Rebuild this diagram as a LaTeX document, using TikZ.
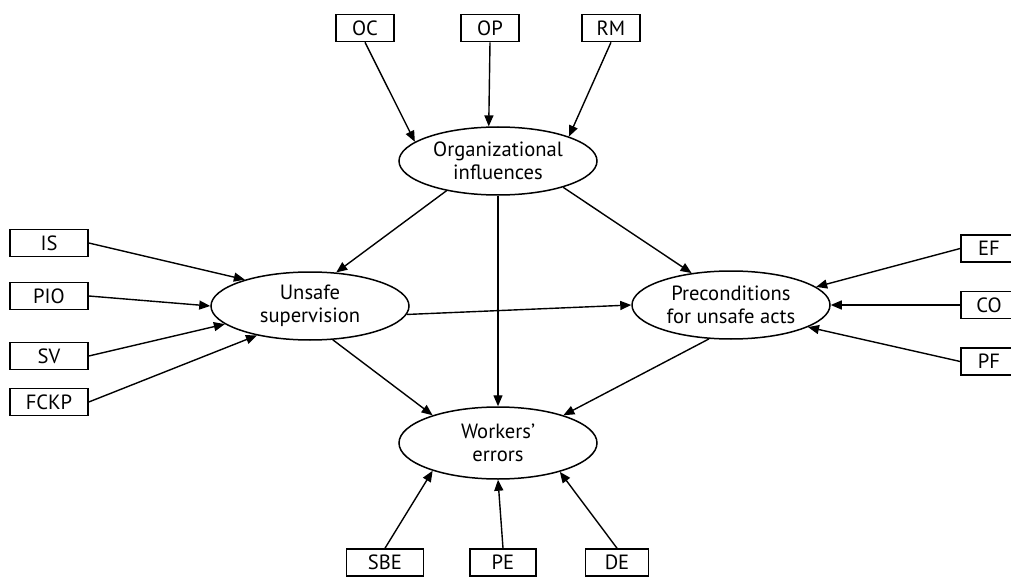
\documentclass[tikz,border=0pt]{standalone}
\usepackage{fontspec}
\setmainfont{PT Sans}
\usetikzlibrary{arrows.meta,shapes.geometric}

\begin{document}
\begin{tikzpicture}[x=0.5pt,y=0.5pt]
\tikzstyle{every node}+=[inner sep=0pt, font=\fontsize{10.3}{11.5}\selectfont]
\tikzstyle{factor}=[draw, ellipse, line width=0.75pt, minimum width=99pt, minimum height=34pt, align=center]
\tikzstyle{item}=[draw, rectangle, line width=0.8pt, minimum height=13.5pt]
\tikzstyle{link}=[line width=0.7pt, -{Triangle[length=5.5pt,width=4.5pt]}]
\useasboundingbox (0,0) rectangle (1011,-577);
\clip (0,0) rectangle (1011,-577);
% latent factors
\node [factor] (org) at (498,-161) {Organizational\\influences};
\node [factor] (sup) at (310,-306) {Unsafe\\supervision};
\node [factor] (pre) at (731,-305) {Preconditions\\for unsafe acts};
\node [factor, minimum height=36pt] (err) at (498,-443) {Workers’\\errors};
% indicators
\node [item, minimum width=29pt] (oc) at (365,-28) {OC};
\node [item, minimum width=29pt] (op) at (490,-28) {OP};
\node [item, minimum width=29pt] (rm) at (611,-28) {RM};
\node [item, minimum width=39pt] (is) at (49,-243) {IS};
\node [item, minimum width=39pt] (pio) at (49,-296) {PIO};
\node [item, minimum width=39pt] (sv) at (49,-356) {SV};
\node [item, minimum width=39pt] (fckp) at (49,-402) {FCKP};
\node [item, minimum width=28pt] (ef) at (989,-248.5) {EF};
\node [item, minimum width=28pt] (co) at (989,-305) {CO};
\node [item, minimum width=28pt] (pf) at (989,-361.5) {PF};
\node [item, minimum width=38.5pt] (sbe) at (385,-562.5) {SBE};
\node [item, minimum width=33pt] (pe) at (503,-562.5) {PE};
\node [item, minimum width=31.5pt] (de) at (617,-562.5) {DE};
% paths
\draw [link] (oc.south) -- (org.167);
\draw [link] (op.south) -- (org.105);
\draw [link] (rm.south) -- (org.19);
\draw [link] (org.210) -- (sup.52);
\draw [link] (org.338) -- (pre.141);
\draw [link] (org.south) -- (err.north);
\draw [link] (is.east) -- (sup.158);
\draw [link] (pio.east) -- (sup.west);
\draw [link] (sv.east) -- (sup.192);
\draw [link] (fckp.east) -- (sup.209);
\draw [link] (sup.355) -- (pre.west);
\draw [link] (sup.304) -- (err.157);
\draw [link] (pre.237) -- (err.23);
\draw [link] (ef.west) -- (pre.12);
\draw [link] (co.west) -- (pre.east);
\draw [link] (pf.west) -- (pre.344);
\draw [link] (sbe.north) -- (err.203);
\draw [link] (pe.north) -- (err.south);
\draw [link] (de.north) -- (err.335);
\end{tikzpicture}
\end{document}
